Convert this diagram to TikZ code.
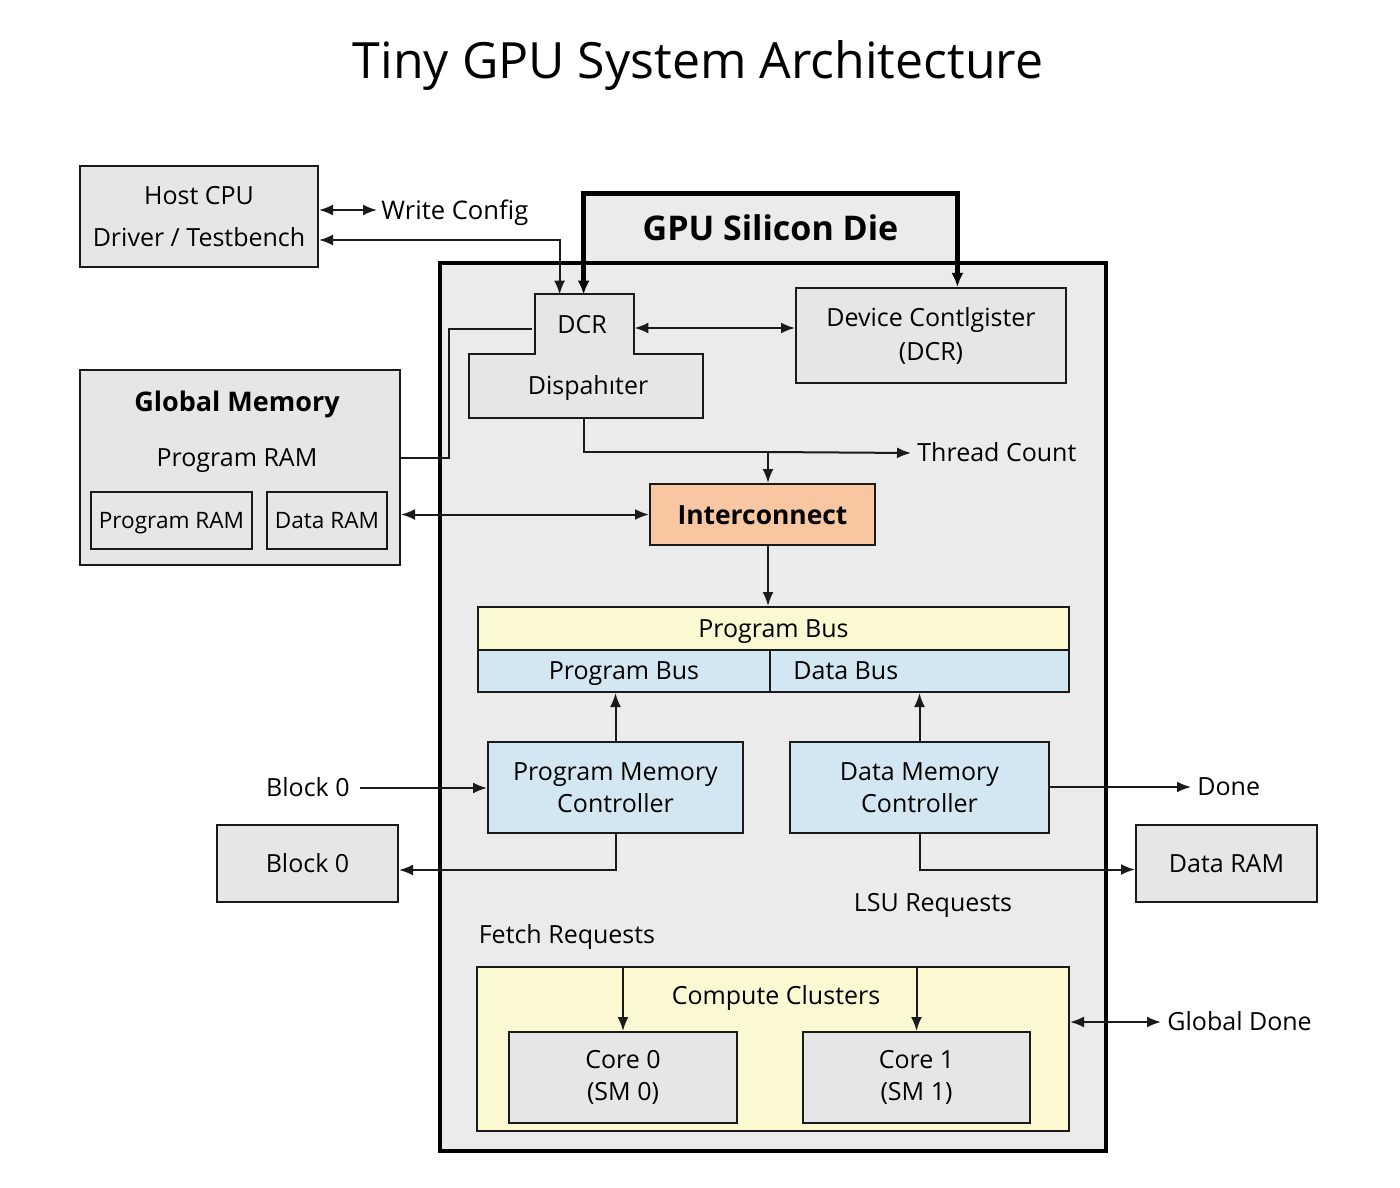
\documentclass[tikz,border=0pt]{standalone}
\usepackage{fontspec}
\setmainfont{Open Sans}
\usetikzlibrary{arrows.meta,calc}
\definecolor{boxgray}{HTML}{E6E6E6}
\definecolor{diegray}{HTML}{EBEBEB}
\definecolor{orangefill}{HTML}{F8C6A0}
\definecolor{yellowfill}{HTML}{FCF9D2}
\definecolor{bluefill}{HTML}{D3E7F2}
\definecolor{linecol}{HTML}{1A1A1A}
\begin{document}
\begin{tikzpicture}[x=0.5pt,y=-0.5pt,
  txt/.style={font=\fontsize{12.5}{16}\selectfont},
  one/.style={text height=#1, text depth=0pt},
  one/.default=8.95pt,
  box/.style={draw=linecol, line width=1pt, fill=boxgray, inner sep=0pt, align=center, txt},
  lbl/.style={inner sep=0pt, txt, one},
  ln/.style={draw=linecol, line width=1pt},
  arr/.style={ln, -{Latex[length=7pt,width=5.5pt]}},
  darr/.style={ln, {Latex[length=7pt,width=5.5pt]}-{Latex[length=7pt,width=5.5pt]}},
  dieline/.style={draw=black, line width=2.2pt},
  diearr/.style={dieline, {Latex[length=7pt,width=6pt]}-{Latex[length=7pt,width=6pt]}},
]
\fill[white] (0,0) rectangle (1400,1187);
\useasboundingbox (0,0) rectangle (1400,1187);

% title
\node[font=\fontsize{25}{30}\selectfont, inner sep=0pt, one=17.9pt] (title) at (698,61) {Tiny GPU System Architecture};

% host
\node[box, minimum width=119pt, minimum height=50.5pt, font=\fontsize{12.5}{21}\selectfont] (host) at (199,216.5) {Host CPU\\Driver / Testbench};
\node[lbl, anchor=west, font=\fontsize{12.8}{16}\selectfont, one=9.15pt] (wc) at (381,210) {Write Config};

% global memory
\node[box, minimum width=160pt, minimum height=97.5pt] (gm) at (240,467.5) {};
\node[lbl, font=\bfseries\fontsize{13.5}{16}\selectfont, one=9.7pt] (gmt) at (237,402) {Global Memory};
\node[lbl] (gml) at (237,458) {Program RAM};
\node[box, one=8.1pt, minimum width=80.5pt, minimum height=28.5pt, font=\fontsize{11.3}{14}\selectfont] (gmp) at (171.5,520.5) {Program RAM};
\node[box, one=8.1pt, minimum width=60pt, minimum height=28.5pt, font=\fontsize{11.3}{14}\selectfont] (gmd) at (327,520.5) {Data RAM};

% die tab and die
\node[fill=diegray, one=12.2pt, minimum width=186.5pt, minimum height=34.5pt, inner sep=0pt, font=\bfseries\fontsize{17}{20}\selectfont] (tab) at (770.5,228.5) {GPU Silicon Die};
\node[draw=black, line width=2.2pt, fill=diegray, minimum width=333pt, minimum height=444pt, inner sep=0pt] (die) at (773,707) {};

% DCR / dispatcher outline
\draw[ln, fill=boxgray] (535,294) -- (634,294) -- (634,354) -- (703,354) -- (703,418) -- (469,418) -- (469,354) -- (535,354) -- cycle;
\node[lbl, minimum width=49.5pt, minimum height=30pt] (dcr) at (582,325) {DCR};
\node[lbl, minimum width=117pt, minimum height=32pt] (disp) at (588,386) {Dispahıter};

% device config
\node[box, minimum width=135pt, minimum height=47.5pt, font=\fontsize{12.5}{17}\selectfont] (dev) at (931,335.5) {Device Contlgister\\(DCR)};

% interconnect
\node[box, one=9.5pt, fill=orangefill, minimum width=112.5pt, minimum height=30.5pt, font=\bfseries\fontsize{13.2}{16}\selectfont] (inter) at (762.5,514.5) {Interconnect};
\coordinate (tj) at (768,452);
\node[lbl, anchor=west] (tc) at (917,453) {Thread Count};

% buses
\node[box, one, fill=yellowfill, minimum width=295.5pt, minimum height=21.5pt] (pbus) at (773.5,628.5) {Program Bus};
\node[box, one, fill=bluefill, minimum width=146pt, minimum height=21pt] (pbusl) at (624,671) {Program Bus};
\node[box, fill=bluefill, minimum width=149.5pt, minimum height=21pt] (dbus) at (919.5,671) {};
\node[lbl, anchor=west] (dbust) at (793,671) {Data Bus};

% controllers
\node[box, fill=bluefill, minimum width=127.5pt, minimum height=45.5pt] (pmc) at (615.5,787.5) {Program Memory\\Controller};
\node[box, fill=bluefill, minimum width=129.5pt, minimum height=45.5pt] (dmc) at (919.5,787.5) {Data Memory\\Controller};

\node[lbl, anchor=east] (b0l) at (350,788) {Block 0};
\node[box, one, minimum width=90.5pt, minimum height=38.5pt] (blk0) at (307.5,863.5) {Block 0};
\node[lbl, anchor=west] (done) at (1197,787) {Done};
\node[box, one, minimum width=90.5pt, minimum height=38.5pt] (dram) at (1226.5,863.5) {Data RAM};

\node[lbl] (lsu) at (933,903) {LSU Requests};
\node[lbl] (fetch) at (567,935) {Fetch Requests};

% compute clusters
\node[box, fill=yellowfill, minimum width=296pt, minimum height=82pt] (cc) at (773,1049) {};
\node[lbl] (cct) at (776,996) {Compute Clusters};
\node[box, minimum width=114pt, minimum height=45.5pt] (core0) at (623,1077.5) {Core 0\\(SM 0)};
\node[box, minimum width=113.5pt, minimum height=45.5pt] (core1) at (916.5,1077.5) {Core 1\\(SM 1)};
\node[lbl, anchor=west] (gd) at (1167,1022) {Global Done};

% connectors
\draw[darr] (host.east |- wc.west) -- ([xshift=-2pt]wc.west);
\draw[darr] ($(host.east)+(0,23.5)$) -| ($(dcr.north west)+(27.5,0)$);
\draw[diearr] (dcr.north -| tab.west) -- (tab.north west) -- (tab.north east) -- (dev.north -| tab.east);
\draw[darr] ($(dcr.east)+(2.5,3)$) -- ($(dcr.east -| dev.west)+(0,3)$);
\draw[ln] (gm.east |- gml) -- ++(48,0) |- ($(dcr.west)+(0,4)$);
\draw[darr] (gm.east |- inter.west) -- (inter.west);
\draw[ln] (disp.south -| tj) ++(-184,0) |- (tj);
\draw[arr] (tj) -- (tj |- inter.north);
\draw[arr] (tj) -- ([xshift=-3pt]tc.west);
\draw[arr] (inter.south -| tj) -- (pbus.north -| tj);
\draw[arr] (pmc.north) -- (pmc.north |- pbusl.south);
\draw[arr] (dmc.north) -- (dmc.north |- dbus.south);
\draw[arr] ([xshift=5pt]b0l.east) -- (b0l.east -| pmc.west);
\draw[arr] (pmc.south) |- ($(blk0.east)+(0,6.5)$);
\draw[arr] (dmc.east |- done.west) -- ([xshift=-3pt]done.west);
\draw[arr] (dmc.south) |- ($(dram.west)+(0,6)$);
\draw[arr] (core0.north |- cc.north) -- (core0.north);
\draw[arr] (core1.north |- cc.north) -- (core1.north);
\draw[darr] (cc.east |- gd.west) -- ([xshift=-3pt]gd.west);
\end{tikzpicture}
\end{document}
